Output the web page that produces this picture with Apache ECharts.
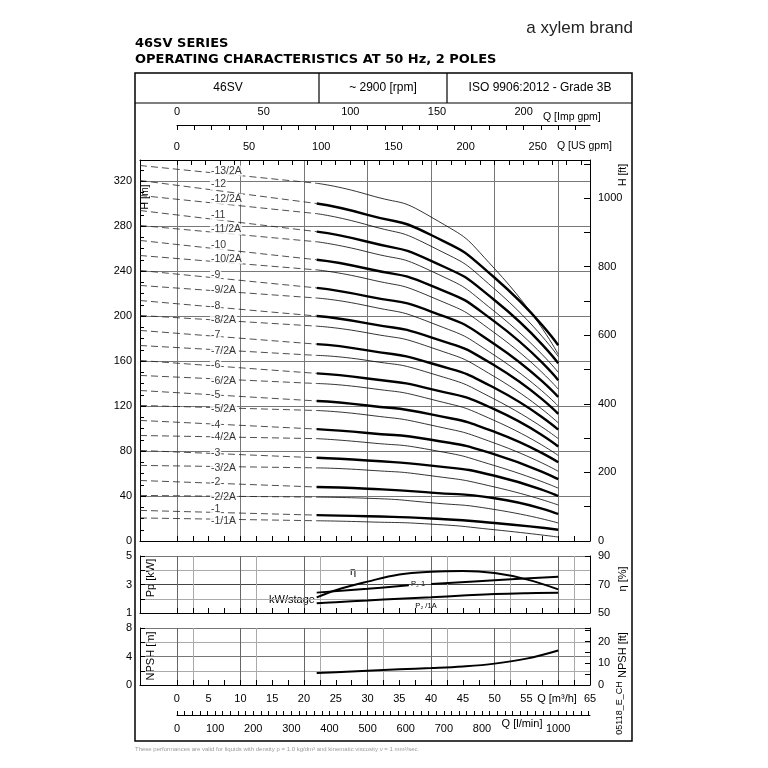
<!DOCTYPE html>
<html><head><meta charset="utf-8">
<script src="https://cdn.jsdelivr.net/npm/echarts@6/dist/echarts.min.js"></script>
<style>html,body{margin:0;padding:0;background:#fff}#c{width:768px;height:768px}</style>
</head><body><div id="c"></div>
<script>
// Q-Punkte der Kennlinien [m3/h]
var qPts = [0, 22, 30, 40, 50, 60];
var curveNames = ['13/2A','12','12/2A','11','11/2A','10','10/2A','9','9/2A','8','8/2A','7','7/2A',
  '6','6/2A','5','5/2A','4','4/2A','3','3/2A','2','2/2A','1','1/1A'];
// H [m] bei qPts
var curveHeads = [
  [333.3, 318, 308, 288, 242, 166],
  [320, 300, 290, 272, 234, 174],
  [306.7, 291, 281, 262, 224, 164],
  [293.3, 275, 266, 249, 214, 158],
  [280, 266, 257, 240, 204, 150],
  [266.7, 250, 242, 227, 195, 143],
  [253.3, 241, 233, 217, 185, 135],
  [240, 225, 217.5, 204, 175, 128],
  [226.7, 216, 209, 194, 165, 120],
  [213.3, 200, 193.5, 181, 156, 113],
  [200, 191, 185, 172, 146, 105],
  [186.7, 175, 169.5, 158, 136, 99],
  [173.3, 165, 160.5, 149, 126, 91],
  [160, 149, 144.5, 135, 117, 84],
  [146.7, 140, 136, 126, 107, 76],
  [133.3, 124.5, 120.5, 112.5, 97, 70],
  [120, 116, 112, 103, 87, 62],
  [106.7, 99.5, 96, 90, 77, 55],
  [93.3, 91, 87.5, 81, 67, 47],
  [80, 74, 71.5, 67, 58, 40],
  [66.7, 65, 63, 58, 48, 32],
  [53.3, 48, 46.5, 43, 38, 24],
  [40, 39, 38, 34, 28, 16],
  [26.7, 23, 22, 20, 16, 10],
  [20, 18, 17, 15, 10, 3.5]
];
var labelHeads = [329,317,304,290,277,263,251,236,223,209,196,183,169,156,142,130,117,103,92,78,65,52,39,28,18];

var qPower = [22, 25, 30, 35, 40, 45, 50, 55, 60];
var etaVals = [61, 66, 72, 77, 79, 79.5, 78, 73.6, 66.6];
var p21aVals = [1.68, 1.76, 1.88, 2.0, 2.1, 2.22, 2.33, 2.39, 2.42];
var npshVals = [1.67, 1.8, 2.0, 2.2, 2.37, 2.6, 3.0, 3.7, 4.85];
// P2 1 has a gap where its label sits
var p21Q = [22, 30, 36.5, 38, 40, 50, 60];
var p21Vals = [2.43, 2.7, 2.94, null, 3.04, 3.3, 3.55];

var qMin = -5.8, qMax = 65;
var qTicks = [], impTicks = [], usTicks = [], lminTicks = [];
var qLabels = [0, 5, 10, 15, 20, 25, 30, 35, 40, 45, 50, 55, 65];
for (var t = 0; t <= 65; t += 2.5) qTicks.push(t);
for (var t3 = 0; t3 <= 230; t3 += 10) impTicks.push(t3);
for (var t4 = 0; t4 <= 280; t4 += 10) usTicks.push(t4);
for (var t5 = 0; t5 <= 1080; t5 += 20) lminTicks.push(t5);

var chart = echarts.init(document.getElementById('c'));
var F = 'Liberation Sans, Arial, sans-serif';
var lbl = {color: '#000', fontSize: 11, fontFamily: F, formatter: function (v) { return String(v); }};
var ax = {show: true, onZero: false, lineStyle: {color: '#000'}};

function qAxis(gi, show) {
  return {type: 'value', gridIndex: gi, min: qMin, max: qMax, axisLine: ax,
    axisTick: {show: true, inside: true, length: 5, customValues: qTicks, lineStyle: {color: '#000'}},
    axisLabel: show ? Object.assign({customValues: qLabels, margin: 8}, lbl) : {show: false},
    splitLine: {show: false}};
}
// overlay grid for vertical grid lines (from Q=-5 at 2.5 steps)
function gAxis(gi, cols) {
  return {type: 'value', gridIndex: gi, min: -5, max: 65, interval: 2.5,
    axisLine: {show: false}, axisTick: {show: false}, axisLabel: {show: false},
    splitLine: {show: true, lineStyle: {color: cols, width: 1}}};
}
function hideY(gi) { return {type: 'value', gridIndex: gi, show: false, splitLine: {show: false}}; }
var T = 'rgba(0,0,0,0)';
var mainCols = [T, T, '#777', T];
var lowCols = [T, T, '#666', '#aaa'];

var series = [];
curveNames.forEach(function (nm, i) {
  var h = curveHeads[i];
  var thick = nm.indexOf('A') < 0;
  series.push({type: 'line', xAxisIndex: 2, yAxisIndex: 0, symbol: 'none', silent: true, z: 3,
    data: [[qMin, h[0] + 0.5], [qPts[1], h[1]]],
    lineStyle: {color: '#222', width: 0.8, type: [7, 4]}});
  var sol = [];
  for (var k = 1; k < qPts.length; k++) sol.push([qPts[k], h[k]]);
  series.push({type: 'line', xAxisIndex: 2, yAxisIndex: 0, symbol: 'none', smooth: 0.6, silent: true, z: 3,
    data: sol, lineStyle: {color: '#000', width: thick ? 2.4 : 0.8}});
});
series.push({type: 'scatter', xAxisIndex: 2, yAxisIndex: 0, symbolSize: 0, silent: true, z: 4,
  data: curveNames.map(function (nm, i) { return {value: [5.2, labelHeads[i]], name: nm}; }),
  label: {show: true, position: 'right', distance: 0, formatter: function (p) { return '-' + p.name; },
    color: '#000', fontSize: 10.5, fontFamily: F, backgroundColor: '#fff', padding: [0, 1]}});

function pw(qs, vals, xi, yi) {
  return {type: 'line', xAxisIndex: xi, yAxisIndex: yi, symbol: 'none', smooth: 0.4, silent: true, z: 3,
    connectNulls: false, data: qs.map(function (q, i) { return [q, vals[i]]; }),
    lineStyle: {color: '#000', width: 2}};
}
series.push(pw(qPower, etaVals, 3, 4));
series.push(pw(p21Q, p21Vals, 3, 3));
series.push(pw(qPower, p21aVals, 3, 3));
series.push(pw(qPower, npshVals, 4, 6));
// empty series so every helper grid has a coordinate system
[[6, 8], [7, 9], [8, 10], [0, 11], [5, 12]].forEach(function (p) {
  series.push({type: 'line', xAxisIndex: p[0], yAxisIndex: p[1], data: [], silent: true});
});

var R = Math.PI / 2;
function vtext(x, y, s, size) {
  return {type: 'text', x: x, y: y, rotation: R,
    style: {text: s, fill: '#000', font: (size || 11) + 'px ' + F, textAlign: 'center', textVerticalAlign: 'middle'}};
}

var option = {
  animation: false,
  grid: [
    {left: 177, width: 413, top: 125, height: 1},
    {left: 140, right: 178, top: 160, height: 381},
    {left: 140, right: 178, top: 556, height: 57},
    {left: 140, right: 178, top: 628, height: 57},
    {left: 177, width: 413, top: 714, height: 1},
    {left: 145.3, right: 178, top: 160, height: 381},
    {left: 145.3, right: 178, top: 556, height: 57},
    {left: 145.3, right: 178, top: 628, height: 57}
  ],
  xAxis: [
    {type: 'value', gridIndex: 0, position: 'top', min: 0, max: 238.3, axisLine: ax, splitLine: {show: false},
      axisTick: {inside: true, length: 5, customValues: impTicks, lineStyle: {color: '#000'}},
      axisLabel: Object.assign({margin: 8, customValues: [0, 50, 100, 150, 200]}, lbl)},
    {type: 'value', gridIndex: 1, position: 'top', min: qMin * 4.403, max: qMax * 4.403, axisLine: ax, splitLine: {show: false},
      axisTick: {inside: true, length: 5, customValues: usTicks, lineStyle: {color: '#000'}},
      axisLabel: Object.assign({margin: 8, customValues: [0, 50, 100, 150, 200, 250]}, lbl)},
    qAxis(1, false),
    qAxis(2, false),
    qAxis(3, true),
    {type: 'value', gridIndex: 4, min: 0, max: 1083.3, axisLine: ax, splitLine: {show: false},
      axisTick: {inside: true, length: 4, customValues: lminTicks, lineStyle: {color: '#000'}},
      axisLabel: Object.assign({margin: 8, customValues: [0,100,200,300,400,500,600,700,800,1000]}, lbl)},
    gAxis(5, mainCols),
    gAxis(6, lowCols),
    gAxis(7, lowCols)
  ],
  yAxis: [
    {type: 'value', gridIndex: 1, min: 0, max: 338.7, interval: 40, axisLine: ax,
      axisTick: {show: true, inside: true, length: 6, lineStyle: {color: '#000'}},
      minorTick: {show: true, splitNumber: 4, length: 4, lineStyle: {color: '#000'}},
      axisLabel: Object.assign({customValues: [0,40,80,120,160,200,240,280,320]}, lbl),
      splitLine: {lineStyle: {color: '#777'}}},
    {type: 'value', gridIndex: 1, position: 'right', min: 0, max: 1111.2, axisLine: ax,
      axisTick: {show: true, inside: true, length: 6, customValues: [0,100,200,300,400,500,600,700,800,900,1000,1100], lineStyle: {color: '#000'}},
      axisLabel: Object.assign({customValues: [0,200,400,600,800,1000]}, lbl),
      splitLine: {show: false}},
    {type: 'value', gridIndex: 2, min: 1, max: 5, interval: 1, axisLine: ax,
      axisTick: {show: true, inside: true, lineStyle: {color: '#000'}},
      axisLabel: Object.assign({customValues: [1, 3, 5]}, lbl),
      splitLine: {lineStyle: {color: ['#777', '#aaa', '#444', '#aaa', '#777']}}},
    {type: 'value', gridIndex: 2, min: 1, max: 5, show: false, splitLine: {show: false}},
    {type: 'value', gridIndex: 2, position: 'right', min: 50, max: 90, interval: 20, axisLine: ax,
      axisTick: {show: true, inside: true, lineStyle: {color: '#000'}},
      axisLabel: lbl, splitLine: {show: false}},
    {type: 'value', gridIndex: 3, min: 0, max: 8, interval: 2, axisLine: ax,
      axisTick: {show: true, inside: true, lineStyle: {color: '#000'}},
      axisLabel: Object.assign({customValues: [0, 4, 8]}, lbl),
      splitLine: {lineStyle: {color: ['#777', '#aaa', '#777', '#aaa', '#777']}}},
    {type: 'value', gridIndex: 3, min: 0, max: 8, show: false, splitLine: {show: false}},
    {type: 'value', gridIndex: 3, position: 'right', min: 0, max: 26.25, interval: 5, axisLine: ax,
      axisTick: {show: true, inside: true, lineStyle: {color: '#000'}},
      axisLabel: Object.assign({customValues: [0, 10, 20]}, lbl), splitLine: {show: false}},
    hideY(5), hideY(6), hideY(7), hideY(0), hideY(4)
  ],
  series: series,
  graphic: [
    {type: 'rect', shape: {x: 135, y: 73, width: 497, height: 668}, style: {fill: 'none', stroke: '#000', lineWidth: 1.5}},
    {type: 'line', shape: {x1: 135, y1: 103, x2: 632, y2: 103}, style: {stroke: '#000', lineWidth: 1.2}},
    {type: 'line', shape: {x1: 319, y1: 73, x2: 319, y2: 103}, style: {stroke: '#000', lineWidth: 1.2}},
    {type: 'line', shape: {x1: 447, y1: 73, x2: 447, y2: 103}, style: {stroke: '#000', lineWidth: 1.2}},
    {type: 'text', x: 633, y: 28, style: {text: 'a xylem brand', fill: '#222', font: '17px ' + F, textAlign: 'right', textVerticalAlign: 'middle'}},
    {type: 'text', x: 135, y: 44, style: {text: '46SV SERIES', fill: '#000', font: 'bold 13px "DejaVu Sans"', textVerticalAlign: 'middle'}},
    {type: 'text', x: 135, y: 60, style: {text: 'OPERATING CHARACTERISTICS AT 50 Hz, 2 POLES', fill: '#000', font: 'bold 13px "DejaVu Sans"', textVerticalAlign: 'middle'}},
    {type: 'text', x: 228, y: 88, style: {text: '46SV', fill: '#000', font: '12px ' + F, textAlign: 'center', textVerticalAlign: 'middle'}},
    {type: 'text', x: 383, y: 88, style: {text: '~ 2900 [rpm]', fill: '#000', font: '12px ' + F, textAlign: 'center', textVerticalAlign: 'middle'}},
    {type: 'text', x: 540, y: 88, style: {text: 'ISO 9906:2012 - Grade 3B', fill: '#000', font: '12px ' + F, textAlign: 'center', textVerticalAlign: 'middle'}},
    {type: 'text', x: 543, y: 117, style: {text: 'Q [Imp gpm]', fill: '#000', font: '10.5px ' + F, textVerticalAlign: 'middle'}},
    {type: 'text', x: 557, y: 146, style: {text: 'Q [US gpm]', fill: '#000', font: '10.5px ' + F, textVerticalAlign: 'middle'}},
    {type: 'text', x: 557, y: 699, style: {text: 'Q [m³/h]', fill: '#000', font: '11px ' + F, textAlign: 'center', textVerticalAlign: 'middle'}},
    {type: 'text', x: 522, y: 724, style: {text: 'Q [l/min]', fill: '#000', font: '11px ' + F, textAlign: 'center', textVerticalAlign: 'middle'}},
    vtext(145, 197, 'H [m]', 10.5),
    vtext(623, 175, 'H [ft]', 10.5),
    vtext(151, 578, 'Pp [kW]'),
    vtext(623, 579, 'η [%]'),
    vtext(151, 656, 'NPSH [m]'),
    vtext(623, 655, 'NPSH [ft]'),
    vtext(620, 708, '05118_E_CH', 9),
    {type: 'text', x: 353, y: 572, style: {text: 'η', fill: '#000', font: '11px ' + F, textAlign: 'center', textVerticalAlign: 'middle'}},
    {type: 'text', x: 292, y: 600, style: {text: 'kW/stage', fill: '#000', font: '11px ' + F, textAlign: 'center', textVerticalAlign: 'middle', backgroundColor: '#fff'}},
    {type: 'text', x: 418, y: 584, style: {text: 'P₂ 1', fill: '#000', font: '7.5px ' + F, textAlign: 'center', textVerticalAlign: 'middle'}},
    {type: 'text', x: 426, y: 606, style: {text: 'P₂ /1A', fill: '#000', font: '7.5px ' + F, textAlign: 'center', textVerticalAlign: 'middle'}},
    {type: 'text', x: 135, y: 749, style: {text: 'These performances are valid for liquids with density ρ = 1.0 kg/dm³ and kinematic viscosity ν = 1 mm²/sec.', fill: '#999', font: '6px ' + F, textVerticalAlign: 'middle'}}
  ]
};
chart.setOption(option);
</script></body></html>
